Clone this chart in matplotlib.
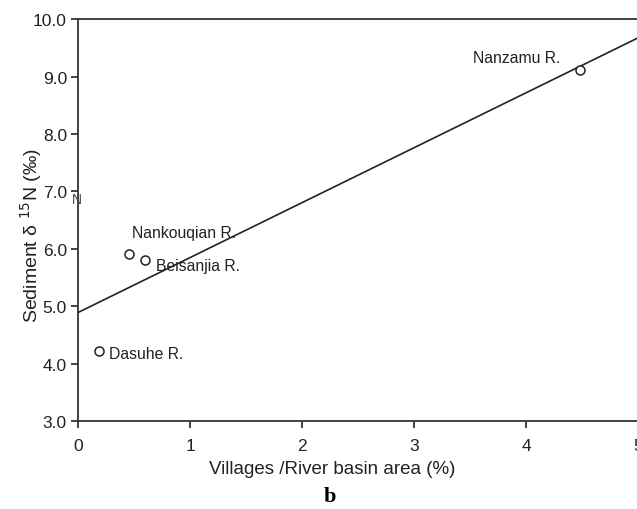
import numpy as np
import matplotlib.pyplot as plt

plt.rcParams['font.family'] = ['Liberation Sans', 'DejaVu Sans']

# data
rivers = ['Dasuhe R.', 'Nankouqian R.', 'Beisanjia R.', 'Nanzamu R.']
village_pct = [0.19, 0.455, 0.60, 4.48]
d15n = [4.22, 5.91, 5.80, 9.11]
x_ticks = [0, 1, 2, 3, 4, 5]
y_ticks = [3.0, 4.0, 5.0, 6.0, 7.0, 8.0, 9.0, 10.0]

fig = plt.figure(figsize=(6.37, 5.10), dpi=100)
ax = fig.add_axes([0.1225, 0.1725, 0.8795, 0.788])

# regression line through the four rivers
slope, icpt = np.polyfit(village_pct, d15n, 1)
xl = np.array([0, 5])
ax.plot(xl, icpt + slope * xl, color='#222222', lw=1.2)

ax.plot(village_pct, d15n, 'o', mfc='white', mec='#222222', mew=1.1, ms=6.5)

# labels next to points
offsets = {'Dasuhe R.': (7, -5), 'Nankouqian R.': (2, 12),
           'Beisanjia R.': (8, -7), 'Nanzamu R.': (-77, 6)}
for name, x, y in zip(rivers, village_pct, d15n):
    ax.annotate(name, (x, y), xytext=offsets[name], textcoords='offset points',
                fontsize=11.3, color='#222222')

ax.set_xlim(0, 5)
ax.set_ylim(3, 10)
ax.set_xticks(x_ticks)
ax.set_yticks(y_ticks)
ax.set_yticklabels([f'{v:.1f}' for v in y_ticks])
ax.tick_params(direction='out', length=5, width=1.2, labelsize=12.5,
               colors='#222222', pad=3)
ax.tick_params(axis='x', pad=7)
for s in ax.spines.values():
    s.set_linewidth(1.3)
    s.set_color('#333333')

ax.set_xlabel('Villages /River basin area (%)', fontsize=13.5, color='#222222')
ax.xaxis.set_label_coords(0.453, -0.097)
ax.set_ylabel('Sediment δ $^{15}$N (‰)', fontsize=14, color='#222222')
ax.yaxis.set_label_coords(-0.06, 0.463)

# stray mark near the y axis in the original
fig.text(0.113, 0.6, 'N', fontsize=10, color='#444444')

fig.text(0.518, 0.025, 'b', fontsize=16, fontweight='bold',
         family='Liberation Serif', ha='center', va='center')

plt.savefig('out.png', dpi=100)
